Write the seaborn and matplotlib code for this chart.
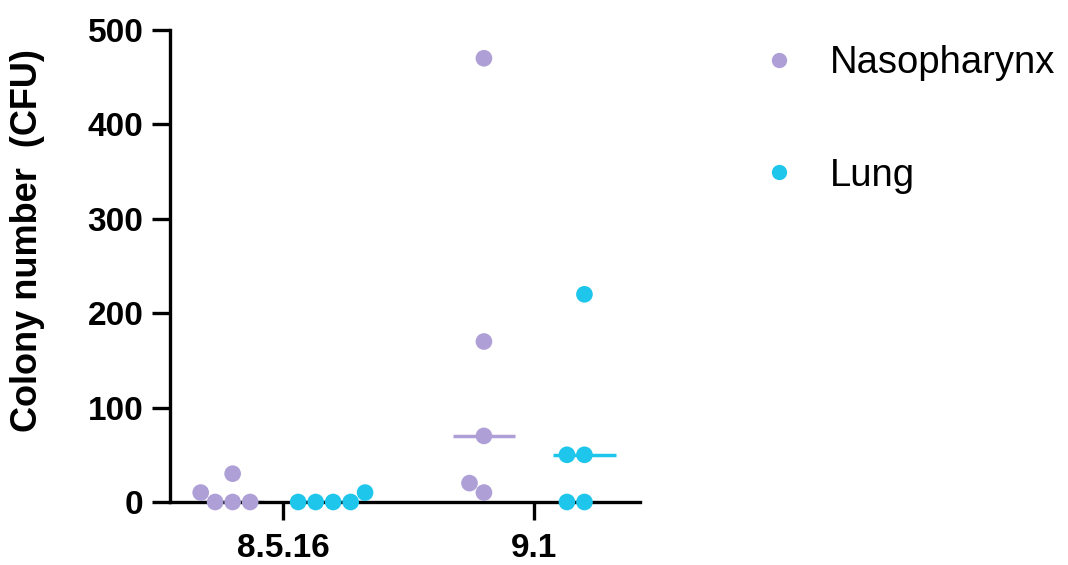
import numpy as np
import pandas as pd
import matplotlib
matplotlib.use("Agg")
import matplotlib.pyplot as plt
import seaborn as sns
from matplotlib.lines import Line2D

# === Data ===
strains = ["8.5.16", "9.1"]
tissues = ["Nasopharynx", "Lung"]

naso_8516 = [0, 10, 30, 0, 0]
lung_8516 = [0, 10, 0, 0, 0]
naso_91 = [470, 170, 70, 10, 20]
lung_91 = [220, 50, 50, 0, 0]

colors = ["#ae9fd6", "#1ec6ec"]

# build a long table for seaborn
rows = []
for strain, tissue, vals in [
    ("8.5.16", "Nasopharynx", naso_8516),
    ("8.5.16", "Lung", lung_8516),
    ("9.1", "Nasopharynx", naso_91),
    ("9.1", "Lung", lung_91),
]:
    for v in vals:
        rows.append({"Strain": strain, "Tissue": tissue, "CFU": v})
df = pd.DataFrame(rows)

sns.set_theme(style="ticks")
plt.rcParams["font.family"] = ["Liberation Sans", "DejaVu Sans"]
for key in ["text.color", "axes.labelcolor", "xtick.color", "ytick.color"]:
    plt.rcParams[key] = "black"

fig = plt.figure(figsize=(10.68, 5.65), dpi=100)
ax = fig.add_axes([0.159, 0.1115, 0.44, 0.8355])

# median lines
sns.boxplot(
    data=df, x="Strain", y="CFU", hue="Tissue", order=strains, hue_order=tissues,
    palette=colors, fill=False, gap=0.375, showfliers=False,
    boxprops={"visible": False}, whiskerprops={"visible": False},
    capprops={"visible": False}, medianprops={"linewidth": 2.5},
    legend=False, ax=ax,
)

# individual points
sns.swarmplot(
    data=df, x="Strain", y="CFU", hue="Tissue", order=strains, hue_order=tissues,
    palette=colors, dodge=True, size=12, linewidth=0, legend=False, ax=ax,
)
for coll in ax.collections:
    coll.set_clip_on(False)

ax.set_ylim(0, 500)
ax.set_xlim(-0.45, 1.42)
ax.set_yticks([0, 100, 200, 300, 400, 500])
ax.set_xlabel("")
ax.set_ylabel("Colony number  (CFU)", fontsize=26, fontweight="bold")
ax.yaxis.set_label_coords(-0.266, 0.553)

sns.despine(ax=ax)
for side in ["left", "bottom"]:
    ax.spines[side].set_linewidth(2.4)
    ax.spines[side].set_color("black")
ax.tick_params(axis="both", width=2.4, length=13, labelsize=24, color="black")
ax.tick_params(axis="x", pad=9)
ax.tick_params(axis="y", pad=6)
for lab in ax.get_xticklabels() + ax.get_yticklabels():
    lab.set_fontweight("bold")

handles = [
    Line2D([], [], marker="o", linestyle="", markersize=10, color=c, label=t)
    for t, c in zip(tissues, colors)
]
ax.legend(
    handles=handles, loc="upper left", bbox_to_anchor=(1.182, 1.04), frameon=False,
    fontsize=27.5, labelspacing=2.0, handletextpad=0.85, handlelength=1.0,
)

fig.savefig("out.png", dpi=100)
